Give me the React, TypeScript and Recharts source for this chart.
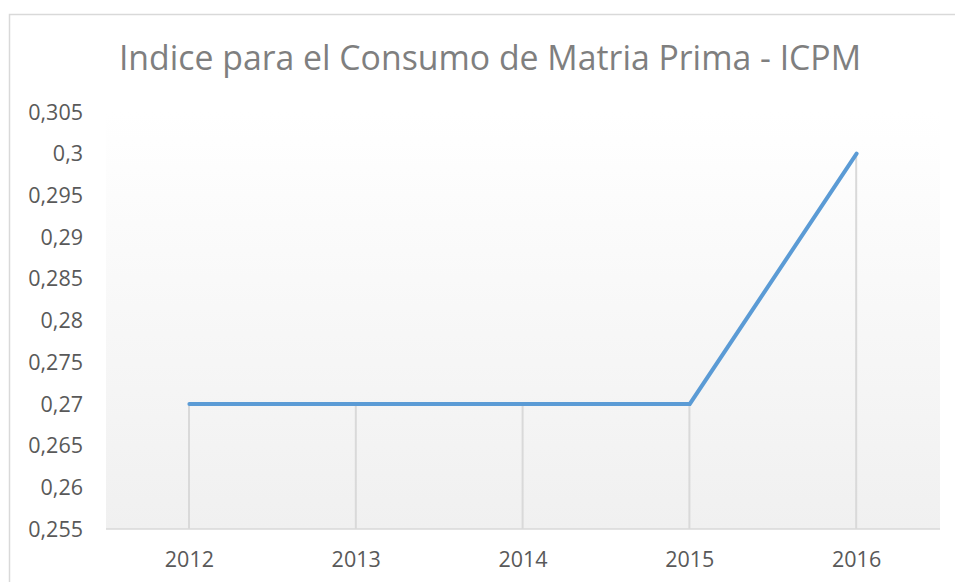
import { ComposedChart, Line, Bar, XAxis, YAxis, ReferenceArea } from 'recharts';

const years = ['2012', '2013', '2014', '2015', '2016'];
const icpmValues = [0.27, 0.27, 0.27, 0.27, 0.3];
const yTicks = [0.255, 0.26, 0.265, 0.27, 0.275, 0.28, 0.285, 0.29, 0.295, 0.3, 0.305];

const data = years.map((year, i) => ({ year, icpm: icpmValues[i] }));

const FONT = '"Open Sans", "Noto Sans", sans-serif';

export default function App() {
    return (
        <div style={{ position: 'fixed', left: 0, top: 0, width: 955, height: 582, overflow: 'hidden', background: 'white' }}>
            <svg width={955} height={582} style={{ position: 'absolute', left: 0, top: 0 }}>
                <defs>
                    <linearGradient id="plotBg" x1="0" y1="0" x2="0" y2="1">
                        <stop offset="0%" stopColor="#ffffff" />
                        <stop offset="100%" stopColor="#f0f0f0" />
                    </linearGradient>
                </defs>
                <rect x={9.5} y={14.5} width={1000} height={1000} fill="white" stroke="#d9d9d9" strokeWidth={1.5} />
                <text x={490} y={70} textAnchor="middle" fontFamily={FONT} fontSize={33.8} fill="#7f7f7f">
                    Indice para el Consumo de Matria Prima - ICPM
                </text>
            </svg>
            <div style={{ position: 'absolute', left: 0, top: 0 }}>
                <ComposedChart width={955} height={582} data={data} margin={{ top: 112, right: 15, bottom: 0, left: 0 }}>
                    <ReferenceArea y1={0.255} y2={0.305} fill="url(#plotBg)" fillOpacity={1} stroke="none" ifOverflow="visible" />
                    <XAxis
                        dataKey="year"
                        height={53}
                        tickLine={false}
                        tickSize={0}
                        tickMargin={23}
                        axisLine={{ stroke: '#d9d9d9', strokeWidth: 1.5 }}
                        tick={{ fill: '#595959', fontSize: 21.5, fontFamily: FONT }}
                    />
                    <YAxis
                        width={106}
                        domain={[0.255, 0.305]}
                        ticks={yTicks}
                        interval={0}
                        axisLine={false}
                        tickLine={false}
                        tickSize={0}
                        tickMargin={23}
                        tickFormatter={(v: number) => String(v).replace('.', ',')}
                        tick={{ fill: '#595959', fontSize: 21.5, fontFamily: FONT }}
                    />
                    <Bar dataKey="icpm" barSize={2} fill="#d9d9d9" isAnimationActive={false} />
                    <Line
                        type="linear"
                        dataKey="icpm"
                        stroke="#5b9bd5"
                        strokeWidth={4}
                        strokeLinecap="round"
                        dot={false}
                        activeDot={false}
                        isAnimationActive={false}
                    />
                </ComposedChart>
            </div>
        </div>
    );
}
